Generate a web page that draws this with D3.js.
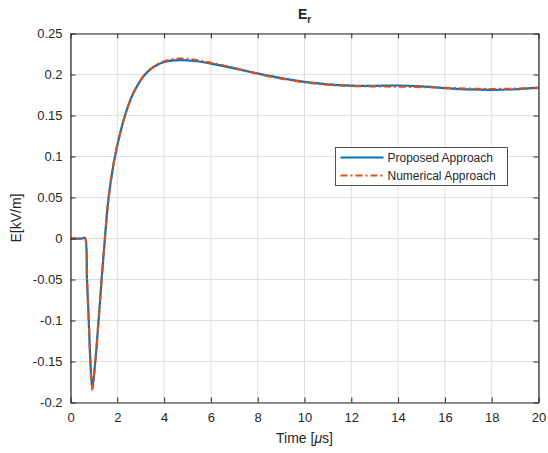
<!DOCTYPE html>
<html>
<head>
<meta charset="utf-8">
<script src="https://d3js.org/d3.v7.min.js"></script>
<style>
  body { margin: 0; background: #fff; }
  text { font-family: "Liberation Sans", Arial, sans-serif; fill: #262626; }
</style>
</head>
<body>
<div id="chart"></div>
<script>
// time axis (microseconds)
var timeUs = [0, 0.5, 0.61, 0.705, 0.78, 0.85, 0.93, 1.06, 1.2, 1.33, 1.47, 1.63, 1.9, 2.33, 2.7, 3.18,
              3.6, 4.04, 4.68, 5.3, 5.96, 7, 7.96, 9, 10, 11, 12, 13, 14, 15, 16, 17, 18, 19, 20];
// Proposed approach, kV/m
var proposed = [0, 0, 0.001, -0.05, -0.1, -0.15, -0.182, -0.15, -0.1, -0.05, 0, 0.05, 0.1, 0.15, 0.178, 0.2,
                0.21, 0.2156, 0.2175, 0.2165, 0.2136, 0.2075, 0.2015, 0.1955, 0.191, 0.188, 0.1864, 0.1862, 0.1866,
                0.1855, 0.1835, 0.1818, 0.1812, 0.182, 0.184];
// Numerical approach, kV/m
var numerical = [0, 0, 0.001, -0.05, -0.1, -0.15, -0.184, -0.15, -0.1, -0.05, 0, 0.05, 0.1, 0.15, 0.178, 0.2,
                 0.2105, 0.2165, 0.2195, 0.218, 0.2145, 0.208, 0.201, 0.195, 0.1905, 0.1875, 0.186, 0.1855, 0.1852,
                 0.1847, 0.1838, 0.1828, 0.1823, 0.1828, 0.1835];
var xTicks = [0, 2, 4, 6, 8, 10, 12, 14, 16, 18, 20];
var yTicks = [-0.2, -0.15, -0.1, -0.05, 0, 0.05, 0.1, 0.15, 0.2, 0.25];
var seriesNames = ["Proposed Approach", "Numerical Approach"];

var W = 548, H = 453;
var m = {left: 70.5, right: 9.5, top: 33.5, bottom: 50.5};

var svg = d3.select("#chart").append("svg")
    .attr("width", W).attr("height", H);

var x = d3.scaleLinear().domain([0, 20]).range([m.left, W - m.right]);
var y = d3.scaleLinear().domain([-0.2, 0.25]).range([H - m.bottom, m.top]);

// grid
svg.append("g").selectAll("line.vx").data(xTicks).enter().append("line")
    .attr("x1", d => x(d)).attr("x2", d => x(d))
    .attr("y1", m.top).attr("y2", H - m.bottom)
    .attr("stroke", "#dfdfdf").attr("stroke-width", 1);
svg.append("g").selectAll("line.hy").data(yTicks).enter().append("line")
    .attr("x1", m.left).attr("x2", W - m.right)
    .attr("y1", d => y(d)).attr("y2", d => y(d))
    .attr("stroke", "#dfdfdf").attr("stroke-width", 1);

// lines
var line = d3.line().curve(d3.curveCatmullRom.alpha(0.5));
svg.append("defs").append("clipPath").attr("id", "clip")
    .append("rect").attr("x", m.left).attr("y", m.top)
    .attr("width", W - m.left - m.right).attr("height", H - m.top - m.bottom);

svg.append("path")
    .attr("d", line(timeUs.map((t, i) => [x(t), y(proposed[i])])))
    .attr("fill", "none").attr("stroke", "#0072BD").attr("stroke-width", 2.2)
    .attr("clip-path", "url(#clip)");
svg.append("path")
    .attr("d", line(timeUs.map((t, i) => [x(t), y(numerical[i])])))
    .attr("fill", "none").attr("stroke", "#D95319").attr("stroke-width", 2.2)
    .attr("stroke-dasharray", "7,3,2,3")
    .attr("clip-path", "url(#clip)");

// axes (MATLAB style, inward ticks, box)
var axColor = "#262626";
var xAxisB = svg.append("g").attr("transform", "translate(0," + (H - m.bottom) + ")")
    .call(d3.axisBottom(x).tickValues(xTicks).tickSizeInner(-5).tickSizeOuter(0).tickPadding(10).tickFormat(d3.format("d")));
var xAxisT = svg.append("g").attr("transform", "translate(0," + m.top + ")")
    .call(d3.axisTop(x).tickValues(xTicks).tickSizeInner(-5).tickSizeOuter(0).tickFormat(""));
var yAxisL = svg.append("g").attr("transform", "translate(" + m.left + ",0)")
    .call(d3.axisLeft(y).tickValues(yTicks).tickSizeInner(-5).tickSizeOuter(0).tickPadding(8)
        .tickFormat(d => String(+d.toFixed(2))));
var yAxisR = svg.append("g").attr("transform", "translate(" + (W - m.right) + ",0)")
    .call(d3.axisRight(y).tickValues(yTicks).tickSizeInner(-5).tickSizeOuter(0).tickFormat(""));

[xAxisB, xAxisT, yAxisL, yAxisR].forEach(function (g) {
    g.select(".domain").attr("stroke", axColor).attr("stroke-width", 1.2);
    g.selectAll(".tick line").attr("stroke", axColor);
    g.selectAll(".tick text").attr("fill", axColor).style("font-size", "13px")
        .style("font-family", "'Liberation Sans', Arial, sans-serif");
});

// title
var title = svg.append("text").attr("x", x(10)).attr("y", 19)
    .attr("text-anchor", "middle").style("font-size", "14px").style("font-weight", "bold");
title.append("tspan").text("E");
title.append("tspan").attr("dy", 4).style("font-size", "10px").text("r");

// axis labels
var xl = svg.append("text").attr("x", x(10)).attr("y", 443)
    .attr("text-anchor", "middle").style("font-size", "14px");
xl.append("tspan").text("Time [");
xl.append("tspan").style("font-style", "italic").text("\u03bc");
xl.append("tspan").text("s]");

svg.append("text")
    .attr("transform", "translate(21," + y(0.025) + ") rotate(-90)")
    .attr("text-anchor", "middle").style("font-size", "14px").text("E[kV/m]");

// legend
var lg = svg.append("g").attr("transform", "translate(335.5,147.5)");
lg.append("rect").attr("width", 172).attr("height", 38)
    .attr("fill", "#fff").attr("stroke", axColor).attr("stroke-width", 0.8);
var legColors = ["#0072BD", "#D95319"];
var legDash = [null, "7,3,2,3"];
seriesNames.forEach(function (name, i) {
    var yy = 10 + i * 18;
    lg.append("line").attr("x1", 5).attr("x2", 48).attr("y1", yy).attr("y2", yy)
        .attr("stroke", legColors[i]).attr("stroke-width", 2.2)
        .attr("stroke-dasharray", legDash[i]);
    lg.append("text").attr("x", 52).attr("y", yy + 4.5)
        .style("font-size", "12px").text(name);
});
</script>
</body>
</html>
